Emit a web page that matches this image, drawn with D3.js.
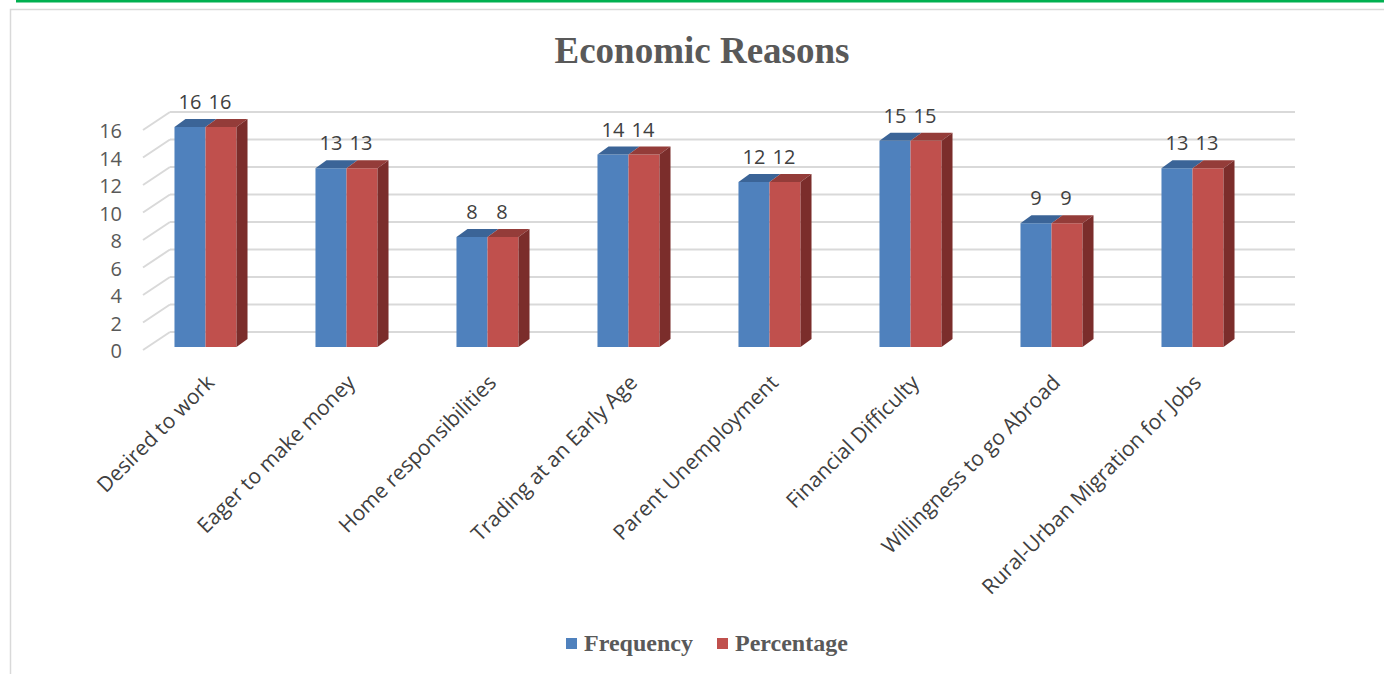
<!DOCTYPE html>
<html>
<head>
<meta charset="utf-8">
<script src="https://cdn.jsdelivr.net/npm/d3@7"></script>
<style>
  body { margin: 0; background: #fff; }
  svg { display: block; }
</style>
</head>
<body>
<div id="chart"></div>
<script>
let w = 1384;
let h = 674;

// data
let categories = ["Desired to work", "Eager to make money", "Home responsibilities",
  "Trading at an Early Age", "Parent Unemployment", "Financial Difficulty",
  "Willingness to go Abroad", "Rural-Urban Migration for Jobs"];
let frequency = [16, 13, 8, 14, 12, 15, 9, 13];
let percentage = [16, 13, 8, 14, 12, 15, 9, 13];
let seriesNames = ["Frequency", "Percentage"];
let yTicks = [0, 2, 4, 6, 8, 10, 12, 14, 16];

let colors = {
  Frequency: { front: "#4f81bd", top: "#3b6497", side: "#2f5381" },
  Percentage: { front: "#c0504d", top: "#943c39", side: "#7b2d2b" }
};

// depth offsets for the fake 3d
let wallDx = 27, wallDy = -18;
let barDx = 11, barDy = -8;

let svg = d3.select("#chart").append("svg")
  .attr("width", w)
  .attr("height", h);

// green rule on top + chart border
svg.append("rect")
  .attr("x", 16).attr("y", 0)
  .attr("width", w - 16).attr("height", 2.5)
  .attr("fill", "#00b050");

svg.append("rect")
  .attr("x", 10.5).attr("y", 9.5)
  .attr("width", w + 20).attr("height", h + 20)
  .attr("fill", "none")
  .attr("stroke", "#d9d9d9")
  .attr("stroke-width", 1.5);

// title
svg.append("text")
  .attr("x", 702).attr("y", 63)
  .attr("text-anchor", "middle")
  .attr("font-family", "'Liberation Serif', 'Times New Roman', serif")
  .attr("font-weight", "bold")
  .attr("font-size", 37)
  .attr("fill", "#595959")
  .text("Economic Reasons");

let yScale = d3.scaleLinear().domain([0, 16]).range([347, 127]);

let x0 = d3.scaleBand().domain(categories)
  .range([135, 1263])
  .paddingInner(0.56)
  .paddingOuter(0.28);

let x1 = d3.scaleBand().domain(seriesNames)
  .range([0, x0.bandwidth()]);

// gridlines: diagonal on the side wall, then straight along the back wall
let grid = svg.append("g").attr("class", "grid");
let wallLeft = x0.range()[0] + 8;
let wallRight = x0.range()[1] + 5;

yTicks.forEach(function(v){
  let yFront = yScale(v) + 3;
  let yBack = yScale(v) + wallDy + 3;
  grid.append("line")
    .attr("x1", wallLeft).attr("y1", yFront)
    .attr("x2", wallLeft + wallDx).attr("y2", yBack)
    .attr("stroke", "#d9d9d9").attr("stroke-width", 2);
  grid.append("line")
    .attr("x1", wallLeft + wallDx).attr("y1", yBack)
    .attr("x2", wallRight + wallDx).attr("y2", yBack)
    .attr("stroke", "#d9d9d9").attr("stroke-width", 2);
});

// y tick labels
svg.append("g").selectAll("text").data(yTicks).enter()
  .append("text")
    .attr("x", 122)
    .attr("y", function(d){ return yScale(d) + 11; })
    .attr("text-anchor", "end")
    .attr("font-family", "'Open Sans', sans-serif")
    .attr("font-size", 20)
    .attr("fill", "#595959")
    .text(function(d){ return d; });

// bars
let barData = [];
categories.forEach(function(c, i){
  barData.push({ cat: c, series: "Frequency", value: frequency[i] });
  barData.push({ cat: c, series: "Percentage", value: percentage[i] });
});

let barGroups = svg.append("g").selectAll(".bar").data(barData).enter()
  .append("g")
    .attr("class", "bar");

function xLeft(d){ return x0(d.cat) + x1(d.series); }

barGroups.append("rect")
  .attr("x", xLeft)
  .attr("y", function(d){ return yScale(d.value); })
  .attr("width", x1.bandwidth())
  .attr("height", function(d){ return yScale(0) - yScale(d.value); })
  .attr("fill", function(d){ return colors[d.series].front; });

barGroups.append("path")
  .attr("d", function(d){
    let xl = xLeft(d), xr = xl + x1.bandwidth(), yt = yScale(d.value);
    return "M" + xl + "," + yt + "L" + (xl + barDx) + "," + (yt + barDy) +
      "L" + (xr + barDx) + "," + (yt + barDy) + "L" + xr + "," + yt + "Z";
  })
  .attr("fill", function(d){ return colors[d.series].top; });

// only the right hand bar shows its side
barGroups.filter(function(d){ return d.series == "Percentage"; })
  .append("path")
  .attr("d", function(d){
    let xr = xLeft(d) + x1.bandwidth(), yt = yScale(d.value), yb = yScale(0);
    return "M" + xr + "," + yt + "L" + (xr + barDx) + "," + (yt + barDy) +
      "L" + (xr + barDx) + "," + (yb + barDy) + "L" + xr + "," + yb + "Z";
  })
  .attr("fill", function(d){ return colors[d.series].side; });

// value labels
barGroups.append("text")
  .attr("x", function(d){
    let shift = d.series == "Frequency" ? 0 : -1;
    return xLeft(d) + x1.bandwidth() / 2 + shift;
  })
  .attr("y", function(d){ return yScale(d.value) - 18; })
  .attr("text-anchor", "middle")
  .attr("font-family", "'Open Sans', sans-serif")
  .attr("font-size", 20)
  .attr("fill", "#404040")
  .text(function(d){ return d.value; });

// category labels, rotated
svg.append("g").selectAll("text").data(categories).enter()
  .append("text")
    .attr("transform", function(d){
      let cx = x0(d) + x0.bandwidth() / 2 + 10;
      return "translate(" + cx + ",384) rotate(-45)";
    })
    .attr("text-anchor", "end")
    .attr("font-family", "'Open Sans', sans-serif")
    .attr("font-size", 21)
    .attr("fill", "#404040")
    .text(function(d){ return d; });

// legend
let legend = svg.append("g").selectAll(".legend").data(seriesNames).enter()
  .append("g")
    .attr("class", "legend")
    .attr("transform", function(d, i){ return "translate(" + (566 + i * 151) + ",0)"; });

legend.append("rect")
  .attr("x", 0).attr("y", 638)
  .attr("width", 11).attr("height", 11)
  .attr("fill", function(d){ return colors[d].front; });

legend.append("text")
  .attr("x", 18).attr("y", 651)
  .attr("font-family", "'Liberation Serif', 'Times New Roman', serif")
  .attr("font-weight", "bold")
  .attr("font-size", 24)
  .attr("fill", "#595959")
  .text(function(d){ return d; });
</script>
</body>
</html>
